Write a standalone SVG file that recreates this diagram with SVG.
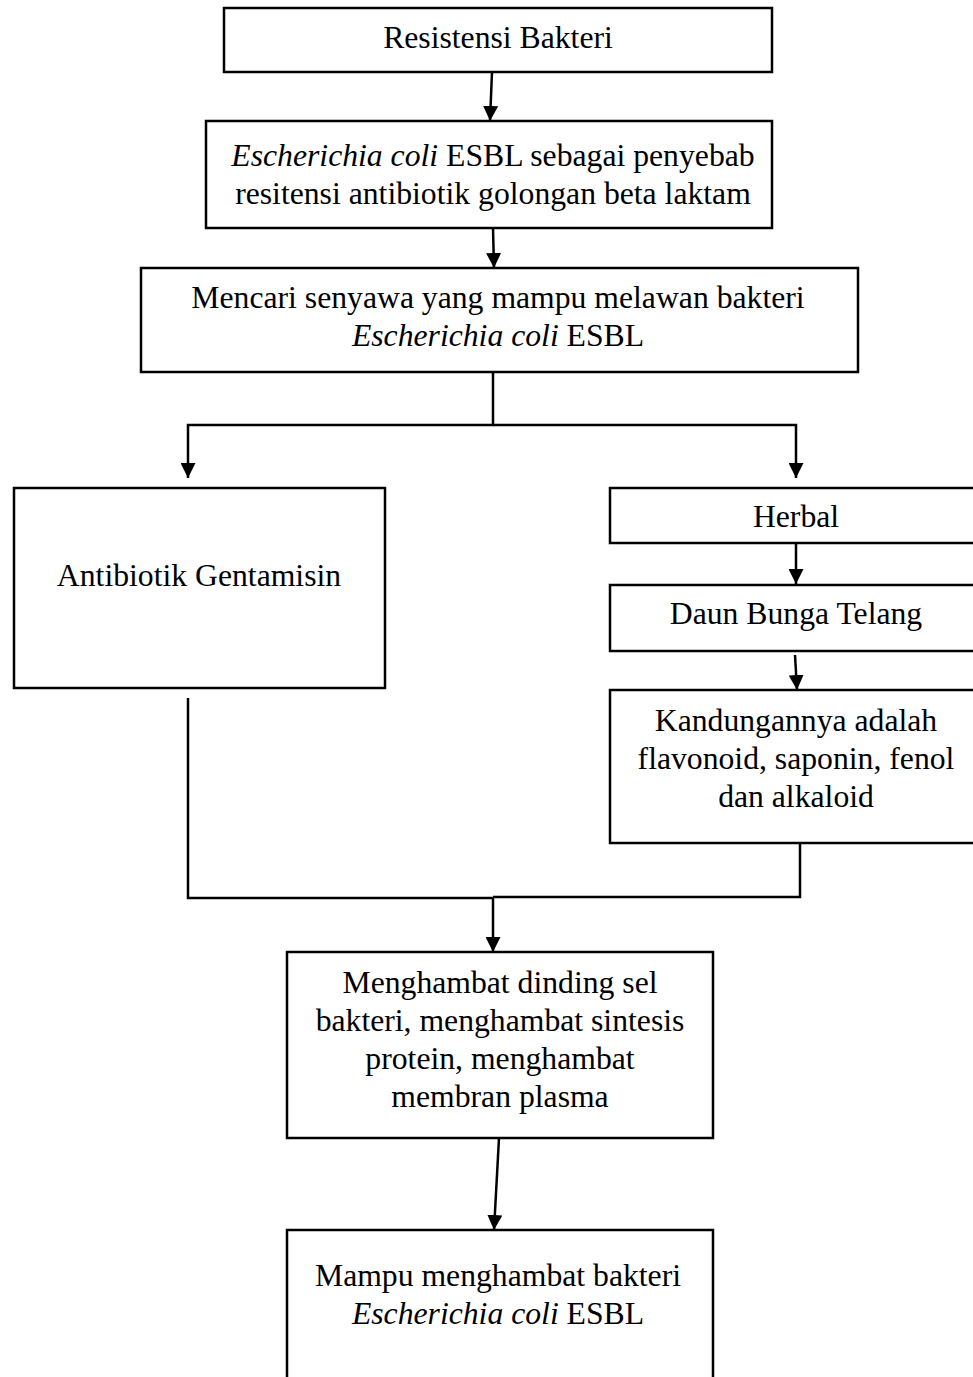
<svg xmlns="http://www.w3.org/2000/svg" width="973" height="1377" viewBox="0 0 973 1377">
<style>
.box{fill:#fff;stroke:#000;stroke-width:2.5}
.t{font-family:"Liberation Serif","Times New Roman",serif;font-size:31.7px;fill:#000;text-anchor:middle}
.i{font-style:italic}
.c{fill:none;stroke:#000;stroke-width:2.5}
</style>
<defs>
<marker id="ah" markerWidth="15" markerHeight="15" refX="15" refY="7.5" orient="auto" markerUnits="userSpaceOnUse" viewBox="0 0 15 15">
<path d="M0,0 L15,7.5 L0,15 Z" fill="#000"/>
</marker>
</defs>
<rect width="973" height="1377" fill="#fff"/>
<g id="n1"><rect class="box" x="224" y="8" width="548" height="64"/><text class="t" x="498" y="48">Resistensi Bakteri</text></g>
<g id="n2"><rect class="box" x="206" y="121" width="566" height="107"/><text class="t" x="493" y="166"><tspan class="i">Escherichia coli</tspan> ESBL sebagai penyebab</text><text class="t" x="493" y="204">resitensi antibiotik golongan beta laktam</text></g>
<g id="n3"><rect class="box" x="141" y="268" width="717" height="104"/><text class="t" x="498" y="308">Mencari senyawa yang mampu melawan bakteri</text><text class="t" x="498" y="346"><tspan class="i">Escherichia coli</tspan> ESBL</text></g>
<g id="n4"><rect class="box" x="14" y="488" width="371" height="200"/><text class="t" x="199" y="586">Antibiotik Gentamisin</text></g>
<g id="n5"><rect class="box" x="610" y="488" width="370" height="55"/><text class="t" x="796" y="527">Herbal</text></g>
<g id="n6"><rect class="box" x="610" y="585" width="370" height="66"/><text class="t" x="796" y="624">Daun Bunga Telang</text></g>
<g id="n7"><rect class="box" x="610" y="690" width="370" height="153"/><text class="t" x="796" y="731">Kandungannya adalah</text><text class="t" x="796" y="769">flavonoid, saponin, fenol</text><text class="t" x="796" y="807">dan alkaloid</text></g>
<g id="n8"><rect class="box" x="287" y="952" width="426" height="186"/><text class="t" x="500" y="993">Menghambat dinding sel</text><text class="t" x="500" y="1031">bakteri, menghambat sintesis</text><text class="t" x="500" y="1069">protein, menghambat</text><text class="t" x="500" y="1107">membran plasma</text></g>
<g id="n9"><rect class="box" x="287" y="1230" width="426" height="200"/><text class="t" x="498" y="1286">Mampu menghambat bakteri</text><text class="t" x="498" y="1324"><tspan class="i">Escherichia coli</tspan> ESBL</text></g>
<g id="connectors">
<line class="c" x1="492" y1="72" x2="490" y2="121" marker-end="url(#ah)"/>
<line class="c" x1="493" y1="228" x2="494" y2="268" marker-end="url(#ah)"/>
<polyline class="c" points="493,372 493,425 188,425 188,478" marker-end="url(#ah)"/>
<polyline class="c" points="493,425 796,425 796,478" marker-end="url(#ah)"/>
<line class="c" x1="796" y1="543" x2="796" y2="584" marker-end="url(#ah)"/>
<line class="c" x1="795" y1="655" x2="797" y2="690" marker-end="url(#ah)"/>
<polyline class="c" points="188,698 188,898 493,898"/>
<polyline class="c" points="800,843 800,897 493,897"/>
<line class="c" x1="493" y1="898" x2="493" y2="952" marker-end="url(#ah)"/>
<line class="c" x1="499" y1="1138" x2="494" y2="1230" marker-end="url(#ah)"/>
</g>
</svg>
